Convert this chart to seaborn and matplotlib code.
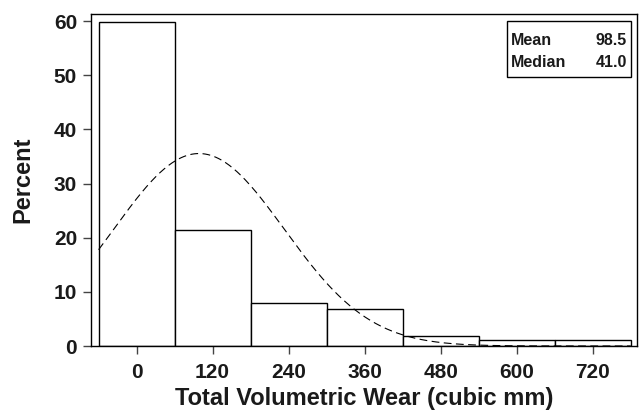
import numpy as np
import pandas as pd
import matplotlib
matplotlib.use("Agg")
import matplotlib.pyplot as plt
import seaborn as sns
from matplotlib.patches import Rectangle

# Data
bin_centers = [0, 120, 240, 360, 480, 600, 720]
percents = [59.8, 21.5, 7.9, 6.9, 1.9, 1.05, 1.05]
bin_width = 120
mean_val = 98.5
median_val = 41.0
sd_val = 134.7  # estimated from the fitted normal curve
x_ticks = [0, 120, 240, 360, 480, 600, 720]
y_ticks = [0, 10, 20, 30, 40, 50, 60]

sns.set_theme(style="ticks")
plt.rcParams['font.family'] = ['Liberation Sans', 'DejaVu Sans']
plt.rcParams['font.weight'] = 'bold'
plt.rcParams['text.color'] = '#1a1a1a'
plt.rcParams['xtick.labelcolor'] = '#1a1a1a'
plt.rcParams['ytick.labelcolor'] = '#1a1a1a'
plt.rcParams['axes.labelcolor'] = '#1a1a1a'

fig = plt.figure(figsize=(6.4, 4.13), dpi=100)
ax = fig.add_axes([91/640, 1 - 346/413, (637 - 91)/640, (346 - 13.5)/413])

lo = bin_centers[0] - bin_width / 2
hi = bin_centers[-1] + bin_width / 2
df = pd.DataFrame({"x": bin_centers, "pct": percents})
sns.histplot(data=df, x="x", weights="pct", binwidth=bin_width, binrange=(lo, hi),
             stat="count", color="white", edgecolor="black", linewidth=1.0, alpha=1, ax=ax)

xs = np.linspace(lo, hi, 400)
ys = 100 * bin_width * np.exp(-(xs - mean_val) ** 2 / (2 * sd_val ** 2)) / (sd_val * np.sqrt(2 * np.pi))
sns.lineplot(x=xs, y=ys, color="black", linewidth=0.8, linestyle=(0, (7, 4)), ax=ax)

ax.set_xlim(-72, 790)
ax.set_ylim(0, 61.4)
ax.set_xticks(x_ticks)
ax.set_yticks(y_ticks)
ax.tick_params(axis='both', labelsize=15, length=6, width=1, color="#444444")
ax.tick_params(axis='x', pad=6)
ax.tick_params(axis='y', pad=4)
for lab in ax.get_xticklabels() + ax.get_yticklabels():
    lab.set_fontweight('bold')
for s in ax.spines.values():
    s.set_visible(True)
    s.set_color("black")
    s.set_linewidth(1.0)

ax.set_xlabel("Total Volumetric Wear (cubic mm)", fontsize=17, fontweight='bold', labelpad=4)
ax.set_ylabel("Percent", fontsize=17, fontweight='bold', labelpad=14)

# Inset statistics box
box_l, box_r = (506.7 - 91)/546, (631 - 91)/546
box_b, box_t = (346 - 77.3)/332.5, (346 - 20.7)/332.5
ax.add_patch(Rectangle((box_l, box_b), box_r - box_l, box_t - box_b, transform=ax.transAxes,
                       facecolor="white", edgecolor="black", linewidth=1.0, zorder=5))
rows = [("Mean", f"{mean_val:.1f}"), ("Median", f"{median_val:.1f}")]
for i, (k, v) in enumerate(rows):
    yy = box_t - (box_t - box_b) * (0.35 + 0.39 * i)
    ax.text(box_l + 0.008, yy, k, transform=ax.transAxes, fontsize=11.5, fontweight='bold',
            ha='left', va='center', zorder=6)
    ax.text(box_r - 0.008, yy, v, transform=ax.transAxes, fontsize=11.5, fontweight='bold',
            ha='right', va='center', zorder=6)

fig.savefig("out.png", dpi=100)
